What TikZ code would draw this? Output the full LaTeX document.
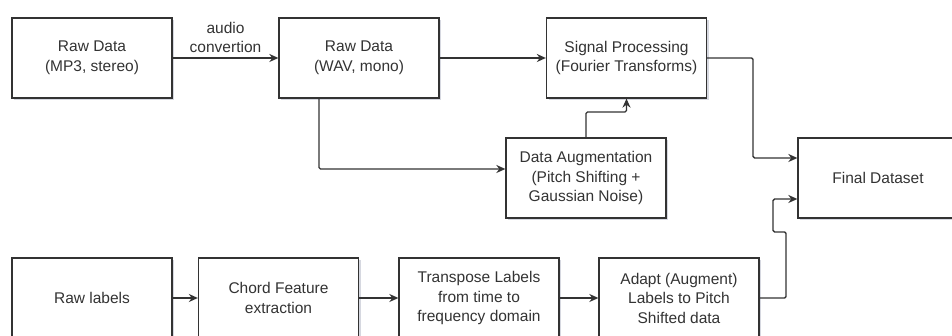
\documentclass[tikz,border=0pt]{standalone}
\usepackage{fontspec}
\setmainfont{Liberation Sans}
\usetikzlibrary{arrows.meta,shadows,calc}
\definecolor{ink}{HTML}{333333}
\definecolor{shade}{HTML}{8A90A8}
\begin{document}
\begin{tikzpicture}[x=1pt,y=-1pt,
  stepbox/.style={draw=ink, line width=1.3pt, fill=white, minimum width=160pt,
    minimum height=80pt, inner sep=0pt, align=center, text=ink,
    font=\fontsize{15.5}{19.5}\selectfont,
    drop shadow={shadow xshift=2pt, shadow yshift=-2.5pt, opacity=0.35, fill=shade}},
  link/.style={draw=ink, line width=1.4pt, rounded corners=1.5pt,
    -{Stealth[length=9pt,width=8pt]}},
  lbl/.style={text=ink, align=center, font=\fontsize{15.5}{19.5}\selectfont}]
\useasboundingbox (0,0) rectangle (952,336);
\fill[white] (0,0) rectangle (952,336);

% audio pipeline
\node[stepbox] (mp3)  at (92,58)    {Raw Data\\(MP3, stereo)};
\node[stepbox] (wav)  at (359,58)   {Raw Data\\(WAV, mono)};
\node[stepbox] (sig)  at (626.5,58) {Signal Processing\\(Fourier Transforms)};
\node[stepbox] (aug)  at (586,178)  {Data Augmentation\\(Pitch Shifting +\\Gaussian Noise)};
\node[stepbox] (final) at (878,178) {Final Dataset};

% label pipeline
\node[stepbox] (rawlab) at (92,298)    {Raw labels};
\node[stepbox] (chord)  at (278.5,298) {Chord Feature\\extraction};
\node[stepbox] (trans)  at (479,298)   {Transpose Labels\\from time to\\frequency domain};
\node[stepbox] (adapt)  at (679,298)   {Adapt (Augment)\\Labels to Pitch\\Shifted data};

% connectors
\draw[link] (mp3.east) -- node[lbl, above=1pt] {audio\\convertion} (wav.west);
\draw[link] (wav.east) -- (sig.west);
\coordinate (wavdown) at (319,98);
\draw[link] (wavdown) |- ($(aug.west)+(0,-9)$);
\draw[link] (aug.north) -- (586,112) -- (626.5,112) -- (sig.south);
\draw[link] (sig.east) -- (753,58) -- (753,158) -- ($(final.west)+(0,-20)$);
\draw[link] (rawlab.east) -- (chord.west);
\draw[link] (chord.east) -- (trans.west);
\draw[link] (trans.east) -- (adapt.west);
\draw[link] (adapt.east) -- (786,298) -- (786,232) -- (773,232) -- (773,199) -- ($(final.west)+(0,21)$);
\end{tikzpicture}
\end{document}
